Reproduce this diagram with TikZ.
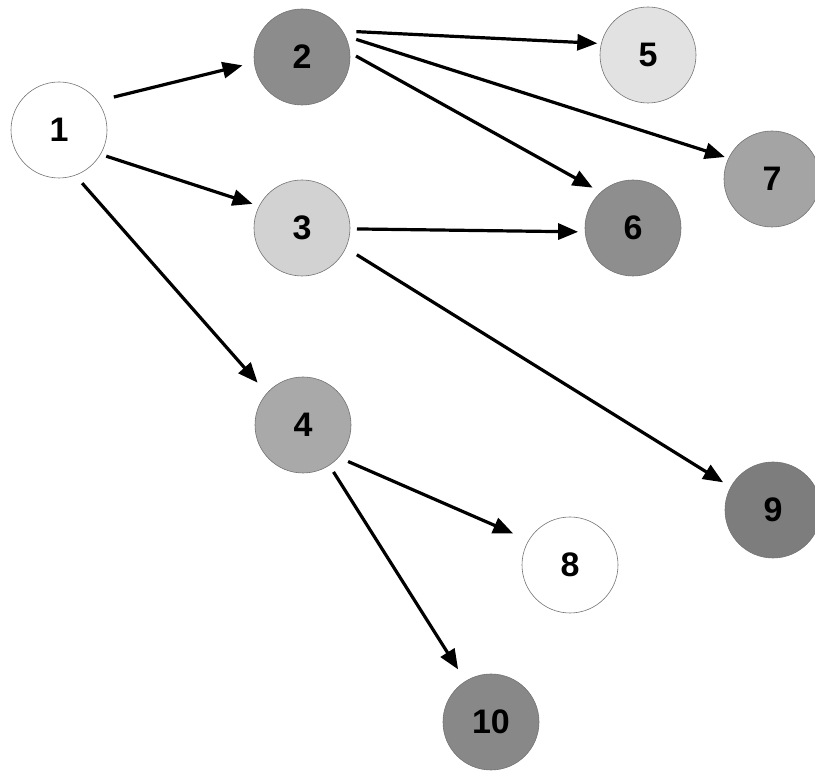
\documentclass[tikz,border=0pt]{standalone}
\usepackage{fontspec}
\setmainfont{Liberation Sans}
\usetikzlibrary{arrows.meta}
\definecolor{cA}{HTML}{8C8C8C}
\definecolor{cB}{HTML}{D2D2D2}
\definecolor{cC}{HTML}{A9A9A9}
\definecolor{cD}{HTML}{E2E2E2}
\definecolor{cE}{HTML}{8E8E8E}
\definecolor{cF}{HTML}{A4A4A4}
\definecolor{cG}{HTML}{7D7D7D}
\definecolor{cH}{HTML}{888888}
\newcommand{\vtxfont}{\fontsize{34}{34}\selectfont\bfseries}
\tikzset{
  vtx/.style={circle, minimum size=96pt, inner sep=0pt, draw=black!55, line width=0.6pt,
    font=\vtxfont},
  arr/.style={line width=3.2pt, -{Triangle[length=20pt,width=16pt]}}
}
\begin{document}
\begin{tikzpicture}[x=1pt,y=1pt]
\useasboundingbox (0,0) rectangle (815,771);
\node[vtx, fill=white] (n1) at (59,641) {1};
\node[vtx, fill=cA] (n2) at (302,714) {2};
\node[vtx, fill=cB] (n3) at (302,543) {3};
\node[vtx, fill=cC] (n4) at (303,346) {4};
\node[vtx, fill=cD] (n5) at (648,716) {5};
\node[vtx, fill=cE] (n6) at (633,543) {6};
\node[vtx, fill=cF] (n7) at (772,592) {7};
\node[vtx, fill=white] (n8) at (570,206) {8};
\node[vtx, fill=cG] (n9) at (773,261) {9};
\node[vtx, fill=cH] (n10) at (491,49) {10};

\draw[arr] ([shift={(31:64)}]n1.center) -- ([shift={(188:60)}]n2.center);
\draw[arr] ([shift={(-29:54)}]n1.center) -- ([shift={(154:55)}]n3.center);
\draw[arr] ([shift={(-66.5:58)}]n1.center) -- ([shift={(137:62)}]n4.center);
\draw[arr] ([shift={(25:60)}]n2.center) -- ([shift={(167:52)}]n5.center);
\draw[arr] ([shift={(18:57)}]n2.center) -- ([shift={(155:52)}]n7.center);
\draw[arr] ([shift={(1:54)}]n2.center) -- ([shift={(135:57)}]n6.center);
\draw[arr] ([shift={(-1:55)}]n3.center) -- ([shift={(184:55)}]n6.center);
\draw[arr] ([shift={(-26:61)}]n3.center) -- ([shift={(151:57)}]n9.center);
\draw[arr] ([shift={(-39:58)}]n4.center) -- ([shift={(151:65)}]n8.center);
\draw[arr] ([shift={(-57:56)}]n4.center) -- ([shift={(122:62)}]n10.center);
\end{tikzpicture}
\end{document}
